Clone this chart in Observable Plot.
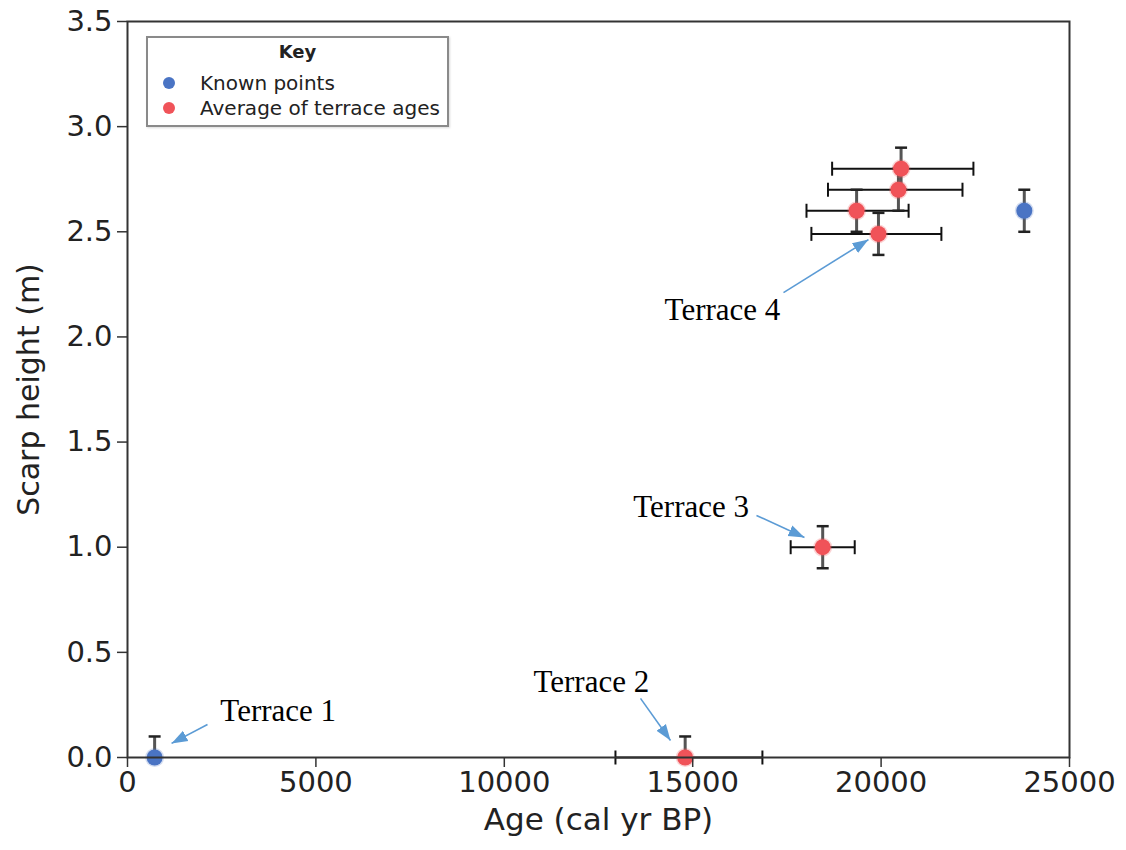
<!DOCTYPE html>
<html>
<head>
<meta charset="utf-8">
<script src="https://cdn.jsdelivr.net/npm/d3@7"></script>
<script src="https://cdn.jsdelivr.net/npm/@observablehq/plot@0.6"></script>
<style>
  html, body { margin: 0; padding: 0; background: #fff; }
  #wrap { position: relative; width: 1126px; height: 850px; }
  #legend {
    position: absolute; left: 146px; top: 36px; width: 299px; height: 87px;
    border: 2px solid #8a8a8a; background: #fff; font-family: "DejaVu Sans", sans-serif;
    color: #222; box-shadow: 1px 1px 2px rgba(0,0,0,0.15);
  }
  #legend .title { text-align: center; font-weight: bold; font-size: 18px; margin-top: 3px; margin-bottom: 8px; }
  #legend .row { display: flex; align-items: center; font-size: 20px; height: 25px; white-space: nowrap; }
  #legend .sw { width: 12px; height: 12px; border-radius: 50%; margin-left: 15px; margin-right: 25px; flex: none; }
</style>
</head>
<body>
<div id="wrap"></div>
<script>
// ---- data ----
const knownAge = [720, 23800];
const knownHeight = [0, 2.6];
const knownHeightErr = [0.1, 0.1];

const terraceAge = [14800, 18450, 20530, 20460, 19350, 19930];
const terraceHeight = [0, 1.0, 2.8, 2.7, 2.6, 2.49];
const terraceAgeMin = [12950, 17600, 18700, 18590, 18020, 18150];
const terraceAgeMax = [16850, 19300, 22450, 22160, 20730, 21600];
const terraceHeightErr = [0.1, 0.1, 0.1, 0.1, 0.1, 0.1];

const xTicks = [0, 5000, 10000, 15000, 20000, 25000];
const yTicks = [0, 0.5, 1.0, 1.5, 2.0, 2.5, 3.0, 3.5];

const annoLabel = ["Terrace 1", "Terrace 2", "Terrace 3", "Terrace 4"];
const annoTextAge = [4000, 12310, 14960, 15790];
const annoTextHeight = [0.219, 0.359, 1.189, 2.126];
const arrowFromAge = [2123, 13615, 16693, 17410];
const arrowFromHeight = [0.157, 0.281, 1.151, 2.211];
const arrowToAge = [1168, 14411, 17967, 19666];
const arrowToHeight = [0.067, 0.081, 1.046, 2.463];

const legendItems = ["Known points", "Average of terrace ages"];
const colors = ["#4a74c4", "#f05359"];

// ---- tables ----
const known = knownAge.map((a, i) => ({age: a, h: knownHeight[i], e: knownHeightErr[i]}));
const terr = terraceAge.map((a, i) => ({age: a, h: terraceHeight[i], lo: terraceAgeMin[i], hi: terraceAgeMax[i], e: terraceHeightErr[i]}));
const anno = annoLabel.map((t, i) => ({t, x: annoTextAge[i], y: annoTextHeight[i],
  x1: arrowFromAge[i], y1: arrowFromHeight[i], x2: arrowToAge[i], y2: arrowToHeight[i]}));

const vCap = { draw(ctx, size) { const r = Math.sqrt(size / Math.PI); ctx.moveTo(0, -r); ctx.lineTo(0, r); } };
const hCap = { draw(ctx, size) { const r = Math.sqrt(size / Math.PI); ctx.moveTo(-r, 0); ctx.lineTo(r, 0); } };

const arrowMarker = (color) => {
  const m = d3.create("svg:marker")
    .attr("viewBox", "-10 -5 10 10")
    .attr("markerWidth", 10).attr("markerHeight", 10)
    .attr("refX", 0).attr("refY", 0)
    .attr("orient", "auto");
  m.append("path").attr("d", "M-10,-3.6L0,0L-10,3.6Z").attr("fill", "#5b9bd5").attr("stroke", "none");
  return m.node();
};

const allErr = [
  ...known.map(d => ({x: d.age, y1: d.h - d.e, y2: d.h + d.e})),
  ...terr.map(d => ({x: d.age, y1: d.h - d.e, y2: d.h + d.e}))
];
const caps = allErr.flatMap(d => [{x: d.x, y: d.y1}, {x: d.x, y: d.y2}]).filter(d => d.y >= 0);
const hcaps = terr.flatMap(d => [{x: d.lo, y: d.h}, {x: d.hi, y: d.h}]);

const chart = Plot.plot({
  width: 1126,
  height: 850,
  marginTop: 21,
  marginLeft: 127,
  marginRight: 57,
  marginBottom: 93,
  style: {fontFamily: "DejaVu Sans, sans-serif", color: "#222", background: "#fff", overflow: "visible"},
  x: {domain: [0, 25000]},
  y: {domain: [0, 3.5]},
  marks: [
    // horizontal (age) error bars
    Plot.link(terr, {x1: "lo", x2: "hi", y1: "h", y2: "h", stroke: "#111", strokeWidth: 2}),
    Plot.dot(hcaps, {x: "x", y: "y", symbol: vCap, r: 7, stroke: "#111", strokeWidth: 2, fill: "none"}),
    // vertical (height) error bars
    Plot.link(allErr, {x1: "x", x2: "x", y1: "y1", y2: "y2", stroke: "#555", strokeWidth: 3, clip: true}),
    Plot.dot(caps, {x: "x", y: "y", symbol: hCap, r: 6, stroke: "#222", strokeWidth: 2.5, fill: "none"}),
    // points
    Plot.dot(known, {x: "age", y: "h", r: 8, fill: colors[0], stroke: colors[0], strokeOpacity: 0.25, strokeWidth: 3}),
    Plot.dot(terr, {x: "age", y: "h", r: 8, fill: colors[1], stroke: colors[1], strokeOpacity: 0.25, strokeWidth: 3}),
    // frame & axes
    Plot.frame({stroke: "#333", strokeWidth: 2}),
    Plot.axisX({ticks: xTicks, tickFormat: d3.format("d"), tickSize: 10, tickPadding: 4, fontSize: 29, label: null, stroke: "#333", strokeWidth: 1.5, fill: "#222"}),
    Plot.axisY({ticks: yTicks, tickFormat: d3.format(".1f"), tickSize: 10, tickPadding: 5, fontSize: 29, label: null, stroke: "#333", strokeWidth: 1.5, fill: "#222"}),
    Plot.text(["Age (cal yr BP)"], {frameAnchor: "bottom", textAnchor: "middle", dy: 72, fontSize: 31, fill: "#222"}),
    Plot.text(["Scarp height (m)"], {frameAnchor: "left", textAnchor: "middle", rotate: -90, dx: -98, fontSize: 30, fill: "#222"}),
    // annotations
    Plot.link(anno, {x1: "x1", y1: "y1", x2: "x2", y2: "y2", stroke: "#5b9bd5", strokeWidth: 1.6, markerEnd: arrowMarker}),
    Plot.text(anno, {x: "x", y: "y", text: "t", fontFamily: "Liberation Serif, Times New Roman, serif", fontSize: 31, fill: "#000"})
  ]
});

const wrap = document.getElementById("wrap");
wrap.appendChild(chart);

const legend = document.createElement("div");
legend.id = "legend";
legend.innerHTML = `<div class="title">Key</div>` +
  legendItems.map((t, i) => `<div class="row"><span class="sw" style="background:${colors[i]}"></span>${t}</div>`).join("");
wrap.appendChild(legend);
</script>
</body>
</html>
